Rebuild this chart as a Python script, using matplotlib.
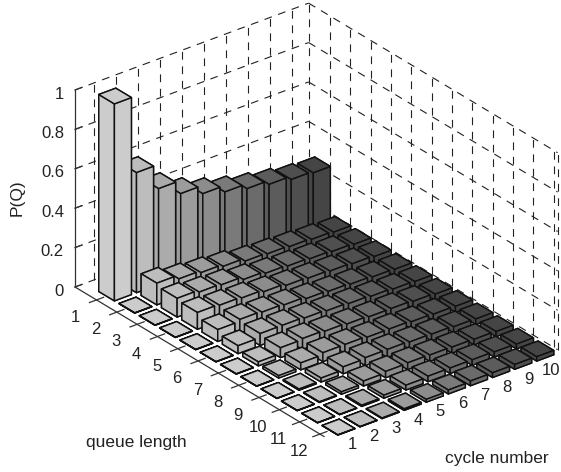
import numpy as np
import matplotlib
matplotlib.use('Agg')
import matplotlib.pyplot as plt
from mpl_toolkits.mplot3d import proj3d

queue_labels = [str(i) for i in range(1, 13)]
cycle_labels = [str(i) for i in range(1, 11)]
z_ticks = [0, 0.2, 0.4, 0.6, 0.8, 1]
z_labels = ['0', '0.2', '0.4', '0.6', '0.8', '1']

q01 = [1.0, .61, .487, .42, .378, .345, .32, .30, .283, .275]
q02 = [.001, .11, .09, .08, .07, .055, .05, .045, .04, .035]
q03 = [.001, .095, .085, .08, .065, .055, .05, .045, .04, .035]
q04 = [.001, .085, .08, .075, .065, .055, .05, .045, .04, .035]
q05 = [.001, .06, .07, .065, .06, .05, .045, .04, .035, .032]
q06 = [.001, .04, .06, .06, .055, .05, .045, .04, .035, .032]
q07 = [.001, .02, .05, .055, .05, .045, .04, .04, .035, .03]
q08 = [.001, .012, .035, .045, .045, .04, .04, .035, .032, .03]
q09 = [.001, .006, .02, .035, .04, .04, .036, .034, .03, .028]
q10 = [.001, .003, .012, .025, .032, .034, .032, .03, .028, .026]
q11 = [.001, .001, .006, .015, .024, .028, .028, .028, .026, .024]
q12 = [.001, .001, .003, .008, .014, .02, .024, .024, .024, .022]
rows = [q01, q02, q03, q04, q05, q06, q07, q08, q09, q10, q11, q12]
cycle_gray = [.80, .74, .67, .61, .55, .48, .42, .36, .31, .27]

W, H = 561, 472
plt.rcParams['font.family'] = ['Liberation Sans', 'DejaVu Sans']
fig = plt.figure(figsize=(W/100, H/100), dpi=100)
ax = fig.add_axes([0, 0, 1, 1], projection='3d')
ax.set_proj_type('ortho')
ax.view_init(elev=28.2, azim=-38.2)
ax.set_box_aspect((402.6, 297.2, 223.5), zoom=1)
XL, YL, ZL = (-0.06, 12.2), (0.16, 10.73), (0, 1)
ax.set_xlim(*XL); ax.set_ylim(*YL); ax.set_zlim(*ZL)
ax.set_axis_off()
ax.computed_zorder = False

# back walls grid
gkw = dict(color='#222222', lw=0.8, ls=(0, (7, 6)), zorder=1)
for z in z_ticks:
    ax.plot([XL[0], XL[0]], YL, [z, z], **gkw)
    ax.plot(XL, [YL[1], YL[1]], [z, z], **gkw)
for i in range(1, 11):
    ax.plot([XL[0], XL[0]], [i, i], ZL, **gkw)
for i in range(1, 13):
    ax.plot([i, i], [YL[1], YL[1]], ZL, **gkw)
ax.plot([XL[0], XL[0]], [YL[1], YL[1]], ZL, **gkw)
ax.plot([XL[1], XL[1]], [YL[1], YL[1]], ZL, **gkw)

# axis lines, ticks
akw = dict(color='#333333', lw=0.9, zorder=5)
ax.plot([XL[0], XL[0]], [YL[0], YL[0]], ZL, **akw)
ax.plot(XL, [YL[0], YL[0]], [0, 0], **akw)
for z in z_ticks:
    ax.plot([XL[0], XL[0]], [YL[0], YL[0]+0.32], [z, z], **akw)
for i in range(len(queue_labels)):
    ax.plot([i+1, i+1], [YL[0]-0.32, YL[0]+0.32], [0, 0], **akw)

# bars back to front
w = 0.77
for qi, row in enumerate(rows):
    for ci in range(len(row) - 1, -1, -1):
        h = row[ci]
        g = cycle_gray[ci]
        c = (g, g, g, 1)
        coll = ax.bar3d(qi + 1 - w/2, ci + 1 - w/2, 0, w, w, h, color=[c]*6,
                        shade=False, edgecolor='#111111', linewidth=1.05)
        coll.set_zorder(10 + qi*20 + (len(row) - ci))


def px(x, y, z):
    a, b, _ = proj3d.proj_transform(x, y, z, ax.get_proj())
    return ax.transData.transform((a, b))


TL = (75, H-287)
TR = (557.6, H-350)
for _ in range(3):
    fig.canvas.draw()
    L = px(XL[0], YL[0], 0); R = px(XL[1], YL[1], 0)
    s = (TR[0]-TL[0])/(R[0]-L[0])
    p = ax.get_position(original=True)
    x0, y0, ww, hh = p.x0*W, p.y0*H, p.width*W, p.height*H
    nx0 = TL[0] - (L[0]-x0)*s
    ny0 = TL[1] - (L[1]-y0)*s
    ax.set_position([nx0/W, ny0/H, ww*s/W, hh*s/H])
fig.canvas.draw()


def label(x, y, z, s, **kw):
    u, v = px(x, y, z)
    fig.text(u/W, v/H, s, fontsize=12, color='#222222', **kw)


for z, lab in zip(z_ticks, z_labels):
    label(XL[0], YL[0]-0.5, z, lab, ha='right', va='center')
for i, lab in enumerate(queue_labels):
    label(i+1, YL[0]-0.95, -0.05, lab, ha='center', va='center')
for i, lab in enumerate(cycle_labels):
    label(XL[1]+0.6, i+0.88, -0.035, lab, ha='center', va='center')

tkw = dict(fontsize=12.5, color='#222222', ha='center', va='center')
fig.text(136.5/W, 1-443/H, 'queue length', **tkw)
fig.text(497/W, 1-459/H, 'cycle number', **tkw)
fig.text(17/W, 1-198/H, 'P(Q)', rotation=90, **tkw)
fig.savefig('out.png', dpi=100)
